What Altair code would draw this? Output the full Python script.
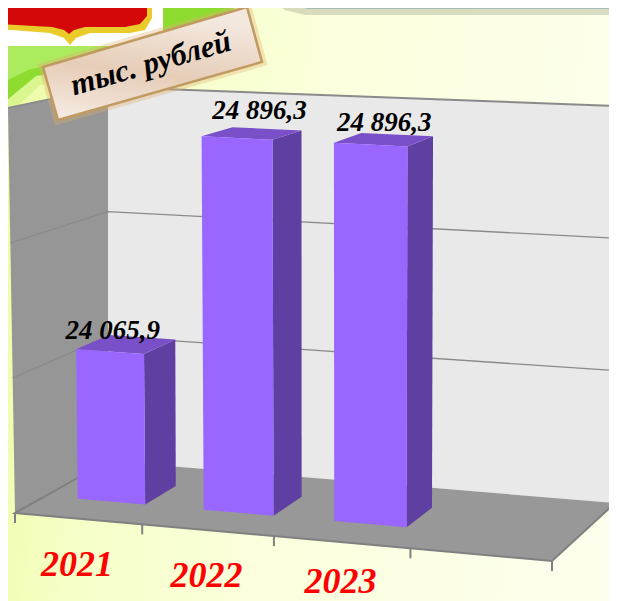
import altair as alt

YEARS = ["2021", "2022", "2023"]
VALUES = [24065.9, 24896.3, 24896.3]
LABELS = ["24 065,9", "24 896,3", "24 896,3"]
LABEL_NUDGE = [(-8, 10), (13, 1), (6, 6)]
YEAR_NUDGE = [3, 3, -3]
VALUE_MIN, VALUE_MAX, VALUE_STEP = 23500, 25000, 500
SLOTS = 4
BAR_U = (0.26, 0.80)
BAR_W = (0.33, 0.68)
PERSPECTIVE = 0.074
UNIT_LABEL = "тыс. рублей"

W, H = 601, 593
OFF = 8
# page-pixel corners of the 3D box: (u, v, w)
CORNERS = {
    (0, 0, 0): (15, 513), (1, 0, 0): (552, 561), (1, 0, 1): (615, 503), (0, 0, 1): (108, 461),
    (0, 1, 0): (8, 108), (1, 1, 0): (556, 136), (1, 1, 1): (617, 106), (0, 1, 1): (108, 87),
}


def proj(u, v, w):
    u = u / (1 + PERSPECTIVE * (1 - u))
    x = y = 0.0
    for (a, b, c), (px, py) in CORNERS.items():
        k = (u if a else 1 - u) * (v if b else 1 - v) * (w if c else 1 - w)
        x += k * px
        y += k * py
    return [x - OFF, y - OFF]


def vnorm(value):
    return (value - VALUE_MIN) / (VALUE_MAX - VALUE_MIN)


def shift(points):
    return [[x - OFF, y - OFF] for x, y in points]


def poly(points):
    return {"type": "Feature", "properties": {},
            "geometry": {"type": "Polygon", "coordinates": [points + [points[0]]]}}


def line(points):
    return {"type": "Feature", "properties": {},
            "geometry": {"type": "LineString", "coordinates": points}}


PROJ = alt.Projection(type="identity", scale=1, translate=[0, 0])


def shape(features, **mark):
    return alt.Chart(alt.Data(values=features)).mark_geoshape(**mark).project(**PROJ.to_dict())


def lines(features, color="#8a8a8a", width=1.5, **mark):
    return shape(features, filled=False, stroke=color, strokeWidth=width, **mark)


SX = alt.Scale(domain=[0, W], range=[0, W])
SY = alt.Scale(domain=[0, H], range=[0, H])


def text(rows, **mark):
    return alt.Chart(alt.Data(values=rows)).mark_text(**mark).encode(
        x=alt.X("x:Q", scale=SX, axis=None),
        y=alt.Y("y:Q", scale=SY, axis=None),
        text="t:N",
    )


SERIF = "Liberation Serif"

background = alt.Chart(alt.Data(values=[{"a": 1}])).mark_rect(
    fill=alt.Gradient(gradient="linear", x1=0, x2=1, y1=0.3, y2=0.45, stops=[
        alt.GradientStop(color="#EEFBA8", offset=0),
        alt.GradientStop(color="#F6FFC8", offset=0.2),
        alt.GradientStop(color="#FBFFDC", offset=0.5),
        alt.GradientStop(color="#FDFFEC", offset=1),
    ])
).encode(x=alt.value(0), x2=alt.value(W), y=alt.value(0), y2=alt.value(H))

swoosh_soft = shape([poly(shift([[0, 0], [262, 0], [215, 28], [150, 62], [70, 82], [40, 85], [12, 112], [0, 130]]))],
                    fill="#C9F27A", opacity=0.55)
swoosh = shape([poly(shift([[0, 0], [250, 0], [205, 25], [140, 52], [60, 72], [36, 76], [0, 106]]))],
               fill="#8EDC30")
swoosh_light = shape([poly(shift([[0, 40], [120, 40], [70, 60], [28, 70], [0, 84]]))],
                     fill="#B4EE6A", opacity=0.8)

emblem_bg = shape([poly(shift([[0, 0], [163, 0], [163, 46], [0, 46]]))], fill="#FFFFFF")
emblem_y = shape([poly(shift([[0, 0], [152, 0], [152, 18], [145, 30], [130, 33], [90, 33], [76, 38], [70, 45], [64, 38], [50, 33], [0, 29]]))],
                 fill="#E9CC2A")
emblem_r = shape([poly(shift([[0, 0], [147, 0], [147, 16], [140, 24], [125, 27], [85, 27], [74, 30], [69, 34], [64, 30], [52, 27], [0, 24]]))],
                 fill="#D40808")

box_shadow = shape([poly(shift([[272, 0], [617, 0], [617, 15], [305, 15], [285, 10]]))], fill="#C9CDB0", opacity=0.7)
box = shape([poly(shift([[280, 0], [617, 0], [617, 9], [308, 9], [290, 5]]))], fill="#A6BCB4")

back_wall = shape([poly([proj(0, 0, 1), proj(1, 0, 1), proj(1, 1, 1), proj(0, 1, 1)])], fill="#E9E9E9")
left_wall = shape([poly([proj(0, 0, 0), proj(0, 0, 1), proj(0, 1, 1), proj(0, 1, 0)])], fill="#969696")
floor = shape([poly([proj(0, 0, 0), proj(1, 0, 0), proj(1, 0, 1), proj(0, 0, 1)])], fill="#989898")

grid_levels = [vnorm(t) for t in range(VALUE_MIN + VALUE_STEP, VALUE_MAX, VALUE_STEP)]
grid = lines([line([proj(0, v, 0), proj(0, v, 1), proj(1, v, 1)]) for v in grid_levels], width=1.3)
top_edge = lines([line([proj(0, 1, 0), proj(0, 1, 1), proj(1, 1, 1)])], width=2)
floor_edge = lines([line([proj(0, 0, 1), proj(0, 0, 0), proj(1, 0, 0), proj(1, 0, 1)])], color="#808080", width=2)
ticks = []
for i in range(SLOTS + 1):
    a = proj(i / SLOTS, 0, 0)
    ticks.append(line([a, [a[0], a[1] + 10]]))
tick_marks = lines(ticks, color="#808080", width=2)

fronts, sides, tops, value_rows, year_rows = [], [], [], [], []
for i, (year, value, label, nudge, ynudge) in enumerate(zip(YEARS, VALUES, LABELS, LABEL_NUDGE, YEAR_NUDGE)):
    u0, u1 = (i + BAR_U[0]) / SLOTS, (i + BAR_U[1]) / SLOTS
    w0, w1 = BAR_W
    v = vnorm(value)
    fronts.append(poly([proj(u0, 0, w0), proj(u1, 0, w0), proj(u1, v, w0), proj(u0, v, w0)]))
    sides.append(poly([proj(u1, 0, w0), proj(u1, 0, w1), proj(u1, v, w1), proj(u1, v, w0)]))
    tops.append(poly([proj(u0, v, w0), proj(u1, v, w0), proj(u1, v, w1), proj(u0, v, w1)]))
    tx, ty = proj((i + 0.5) / SLOTS, v, 0.5)
    value_rows.append({"x": tx - 1 + nudge[0], "y": ty - 23 + nudge[1], "t": label})
    bx, by = proj((i + 0.5) / SLOTS, 0, 0)
    year_rows.append({"x": bx - 1, "y": by + 43 + ynudge, "t": year})

bars = [
    shape(sides, fill="#603FA3"),
    shape(tops, fill="#7A50C8"),
    shape(fronts, fill="#9966FF"),
]
value_text = text(value_rows, font=SERIF, fontSize=27, fontWeight="bold", fontStyle="italic",
                  color="#000000", align="center", baseline="middle")
year_text = text(year_rows, font=SERIF, fontSize=36, fontWeight="bold", fontStyle="italic",
                 color="#FF0000", align="center", baseline="middle")

TAG = [[43, 67], [247, 7], [262, 62], [58, 120]]
tag_glow = shape([poly(shift(TAG))], fill="#D9A860", stroke="#E0B070", strokeWidth=9, opacity=0.35)
tag = shape([poly(shift(TAG))],
            fill=alt.Gradient(gradient="linear", x1=0, x2=0.25, y1=1, y2=0, stops=[
                alt.GradientStop(color="#F6EDE6", offset=0),
                alt.GradientStop(color="#E6CDB8", offset=0.5),
                alt.GradientStop(color="#F3E8DE", offset=1),
            ]),
            stroke="#C09A60", strokeWidth=2.5)
tag_text = text([{"x": 151 - OFF, "y": 64 - OFF, "t": UNIT_LABEL}], font=SERIF, fontSize=31, fontWeight="bold",
                fontStyle="italic", color="#000000", align="center", baseline="middle", angle=344)

chart = alt.layer(
    background, swoosh_soft, swoosh, swoosh_light, emblem_bg, emblem_y, emblem_r, box_shadow, box,
    back_wall, left_wall, floor, grid, top_edge, floor_edge, tick_marks,
    *bars, value_text, year_text, tag_glow, tag, tag_text,
).properties(width=W, height=H, padding=0, autosize=alt.AutoSizeParams(type="none")).configure_view(strokeWidth=0)

chart.save("out.html", embed_options={"renderer": "svg", "actions": False})
